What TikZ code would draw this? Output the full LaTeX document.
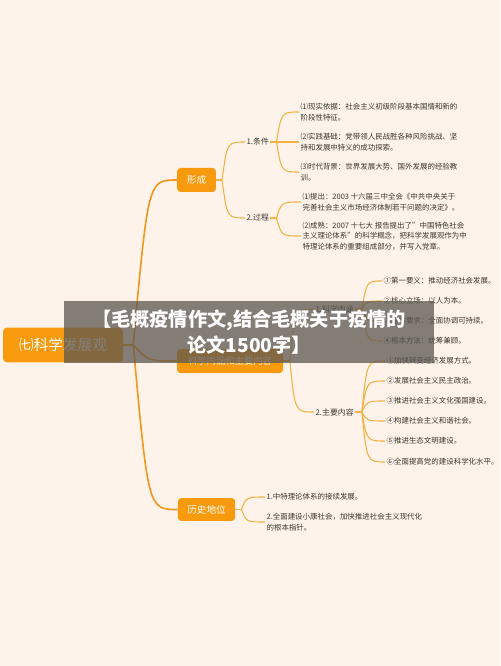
\documentclass[tikz,border=0pt]{standalone}
\usepackage{fontspec}
\setmainfont{Noto Sans CJK SC}
\usepackage{xcolor}
\usetikzlibrary{positioning, calc}

\definecolor{bgpeach}{RGB}{254,243,234}
\definecolor{nodeorange}{RGB}{248,154,14}
\definecolor{trunkorange}{RGB}{242,150,28}
\definecolor{linkgold}{RGB}{242,178,68}
\definecolor{textgrey}{RGB}{58,54,50}
\definecolor{bannergrey}{RGB}{92,86,80}

\begin{document}
\begin{tikzpicture}[
    x=0.75pt, y=-0.75pt,
    topic/.style={fill=nodeorange, rounded corners=2.5pt, text=white, inner sep=0pt, minimum height=18pt, font=\fontsize{7.2}{9}\selectfont},
    sub/.style={anchor=west, text=textgrey, inner sep=1pt, font=\fontsize{5.9}{7.5}\selectfont},
    leaf/.style={anchor=west, text=textgrey, inner sep=1pt, align=left, font=\fontsize{5.6}{7.9}\selectfont},
    trunk/.style={draw=trunkorange, line width=1.2pt},
    link/.style={draw=linkgold, line width=0.8pt},
    banner/.style={fill=bannergrey, fill opacity=0.75, text opacity=1, text=white, inner sep=0pt, align=center, font=\fontsize{14.4}{20}\selectfont\bfseries}
]

\fill[bgpeach] (0,0) rectangle (500,666);

% main topics
\node[topic, minimum width=90pt, minimum height=26pt, rounded corners=3pt, font=\fontsize{11}{13}\selectfont] (root) at (63,345) {㈦科学发展观};
\node[topic, minimum width=29pt] (xc) at (196.5,180) {形成};
\node[topic, minimum width=79.5pt, font=\fontsize{7}{9}\selectfont] (nh) at (230,361) {科学内涵和主要内容};
\node[topic, minimum width=43pt, minimum height=17pt] (ls) at (206.5,509.5) {历史地位};

\coordinate (rootfork) at ([xshift=7.5pt]root.east);
\draw[trunk] (root.east) -- (rootfork);
\draw[trunk] (rootfork) .. controls ($(rootfork |- xc.west)+(15,0)$) .. (xc.west);
\draw[trunk] (rootfork) .. controls ($(rootfork |- nh.west)+(15,0)$) .. (nh.west);
\draw[trunk] (rootfork) .. controls ($(rootfork |- ls.west)+(15,0)$) .. (ls.west);

% 形成
\node[sub] (cond) at (245,142) {1.条件};
\node[sub] (proc) at (245,218) {2.过程};
\coordinate (xcfork) at ([xshift=4.5pt]xc.east);
\draw[link] (xc.east) -- (xcfork);
\foreach \k in {cond, proc}
    \draw[link] (xcfork) .. controls ($(xcfork |- \k.west)+(5,0)$) .. (\k.west);

\node[leaf] (cond1) at (299,112) {⑴现实依据：社会主义初级阶段基本国情和新的\\阶段性特征。};
\node[leaf] (cond2) at (299,142) {⑵实践基础：党带领人民战胜各种风险挑战、坚\\持和发展中特义的成功探索。};
\node[leaf] (cond3) at (299,172) {⑶时代背景：世界发展大势、国外发展的经验教\\训。};
\coordinate (condfork) at ([xshift=4.5pt]cond.east);
\draw[link] (cond.east) -- (condfork);
\foreach \k in {cond1, cond2, cond3}
    \draw[link] (condfork) .. controls ($(condfork |- \k.west)+(5,0)$) .. (\k.west);

\node[leaf] (proc1) at (301,202) {⑴提出：2003 十六届三中全会《中共中央关于\\完善社会主义市场经济体制若干问题的决定》。};
\node[leaf] (proc2) at (301,236) {⑵成熟：2007 十七大 报告提出了"中国特色社会\\主义理论体系"的科学概念，把科学发展观作为中\\特理论体系的重要组成部分，并写入党章。};
\coordinate (procfork) at ([xshift=4.5pt]proc.east);
\draw[link] (proc.east) -- (procfork);
\foreach \k in {proc1, proc2}
    \draw[link] (procfork) .. controls ($(procfork |- \k.west)+(5,0)$) .. (\k.west);

% 科学内涵和主要内容
\node[sub] (kx) at (314,309) {1.科学内涵};
\node[sub] (zy) at (314,412) {2.主要内容};
\coordinate (nhfork) at ([xshift=5pt]nh.east);
\draw[link] (nh.east) -- (nhfork);
\foreach \k in {kx, zy}
    \draw[link] (nhfork) .. controls ($(nhfork |- \k.west)+(5,0)$) .. (\k.west);

\node[leaf] (kx1) at (382,281) {①第一要义：推动经济社会发展。};
\node[leaf] (kx2) at (382,301) {②核心立场：以人为本。};
\node[leaf] (kx3) at (382,321) {③基本要求：全面协调可持续。};
\node[leaf] (kx4) at (382,341) {④根本方法：统筹兼顾。};
\coordinate (kxfork) at ([xshift=5pt]kx.east);
\draw[link] (kx.east) -- (kxfork);
\foreach \k in {kx1, kx2, kx3, kx4}
    \draw[link] (kxfork) .. controls ($(kxfork |- \k.west)+(5,0)$) .. (\k.west);

\node[leaf] (zy1) at (385,361) {①加快转变经济发展方式。};
\node[leaf] (zy2) at (385,381) {②发展社会主义民主政治。};
\node[leaf] (zy3) at (385,401) {③推进社会主义文化强国建设。};
\node[leaf] (zy4) at (385,421) {④构建社会主义和谐社会。};
\node[leaf] (zy5) at (385,441) {⑤推进生态文明建设。};
\node[leaf] (zy6) at (385,462) {⑥全面提高党的建设科学化水平。};
\coordinate (zyfork) at ([xshift=5pt]zy.east);
\draw[link] (zy.east) -- (zyfork);
\foreach \k in {zy1, zy2, zy3, zy4, zy5, zy6}
    \draw[link] (zyfork) .. controls ($(zyfork |- \k.west)+(5,0)$) .. (\k.west);

% 历史地位
\node[leaf] (ls1) at (265,497) {1.中特理论体系的接续发展。};
\node[leaf] (ls2) at (265,522) {2.全面建设小康社会，加快推进社会主义现代化\\的根本指针。};
\coordinate (lsfork) at ([xshift=4.5pt]ls.east);
\draw[link] (ls.east) -- (lsfork);
\foreach \k in {ls1, ls2}
    \draw[link] (lsfork) .. controls ($(lsfork |- \k.west)+(5,0)$) .. (\k.west);

% overlay title
\node[banner, minimum width=277.5pt, minimum height=46.5pt] (title) at (249,332) {【毛概疫情作文,结合毛概关于疫情的\\论文1500字】};

\end{tikzpicture}
\end{document}
